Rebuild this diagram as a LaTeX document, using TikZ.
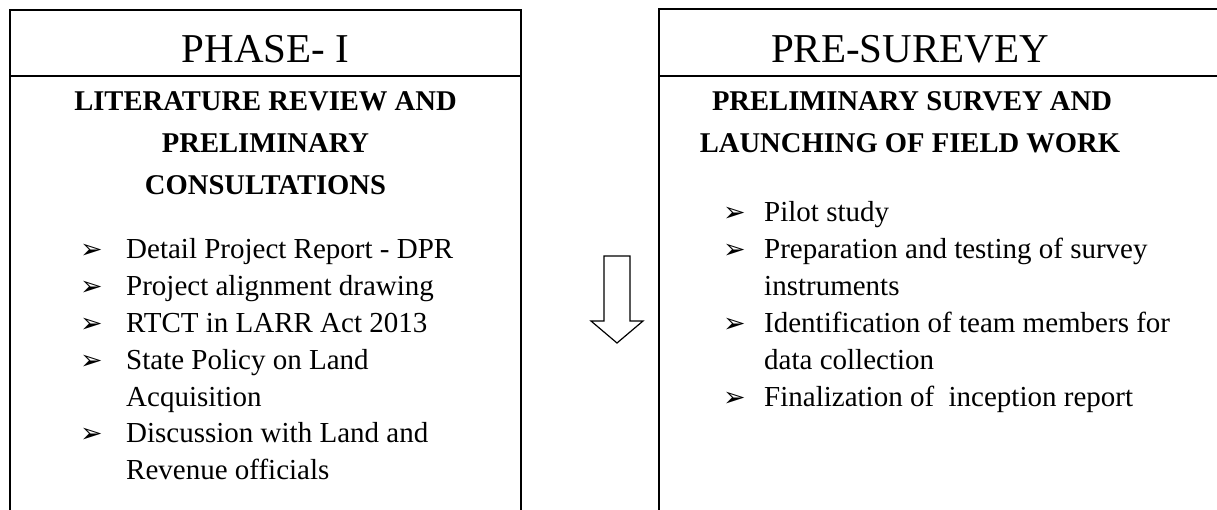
\documentclass[tikz,border=0pt]{standalone}
\usepackage{fontspec}
\setmainfont{Liberation Serif}
\newfontfamily\symfont{DejaVu Sans}
\tikzset{
  boxline/.style={line width=2pt, draw=black},
  titletext/.style={font=\fontsize{41}{48}\selectfont, anchor=base, inner sep=0pt},
  headtext/.style={font=\fontsize{28.6}{34}\selectfont\bfseries, anchor=base, inner sep=0pt},
  itemtext/.style={font=\fontsize{29}{37}\selectfont, anchor=base west, inner sep=0pt},
  bul/.style={font=\symfont\fontsize{27}{30}\selectfont, anchor=base west, inner sep=0pt},
  blockarrow/.style={draw=black, line width=1.2pt, fill=white, line join=miter}
}
\begin{document}
\begin{tikzpicture}[x=1pt,y=-1pt]
\useasboundingbox (0,0) rectangle (1217,509);
\clip (0,0) rectangle (1217,509);
% left box
\draw[boxline] (10,530) -- (10,10) -- (521,10) -- (521,530);
\draw[boxline] (10,76) -- (521,76);
% right box
\draw[boxline] (659,530) -- (659,9) -- (1240,9);
\draw[boxline] (659,76) -- (1240,76);
% titles
\node[titletext] (t1) at (265.5,62) {PHASE- I};
\node[titletext] (t2) at (910,62) {PRE-SUREVEY};
% left heading
\node[headtext] (h1a) at (265.5,110) {LITERATURE REVIEW AND};
\node[headtext] (h1b) at (265.5,152) {PRELIMINARY};
\node[headtext] (h1c) at (265.5,194) {CONSULTATIONS};
% right heading
\node[headtext] (h2a) at (912,110) {PRELIMINARY SURVEY AND};
\node[headtext] (h2b) at (910,152) {LAUNCHING OF FIELD WORK};
% left items
\node[bul] (lb1) at (80,258) {➢};
\node[itemtext] (l1) at (126,258) {Detail Project Report - DPR};
\node[bul] (lb2) at (80,295) {➢};
\node[itemtext] (l2) at (126,295) {Project alignment drawing};
\node[bul] (lb3) at (80,332) {➢};
\node[itemtext] (l3) at (126,332) {RTCT in LARR Act 2013};
\node[bul] (lb4) at (80,369) {➢};
\node[itemtext] (l4) at (126,369) {State Policy on Land};
\node[itemtext] (l4b) at (126,406) {Acquisition};
\node[bul] (lb5) at (80,442) {➢};
\node[itemtext] (l5) at (126,442) {Discussion with Land and};
\node[itemtext] (l5b) at (126,479) {Revenue officials};
% right items
\node[bul] (rb1) at (723,221) {➢};
\node[itemtext] (r1) at (764,221) {Pilot study};
\node[bul] (rb2) at (723,258) {➢};
\node[itemtext] (r2) at (764,258) {Preparation and testing of survey};
\node[itemtext] (r2b) at (764,295) {instruments};
\node[bul] (rb3) at (723,332) {➢};
\node[itemtext] (r3) at (764,332) {Identification of team members for};
\node[itemtext] (r3b) at (764,369) {data collection};
\node[bul] (rb4) at (723,406) {➢};
\node[itemtext] (r4) at (764,406) {Finalization of~ inception report};
% block arrow
\draw[blockarrow] (604,256) -- (630,256) -- (630,321) -- (643,321) -- (617,343) -- (591,321) -- (604,321) -- cycle;
\end{tikzpicture}
\end{document}
